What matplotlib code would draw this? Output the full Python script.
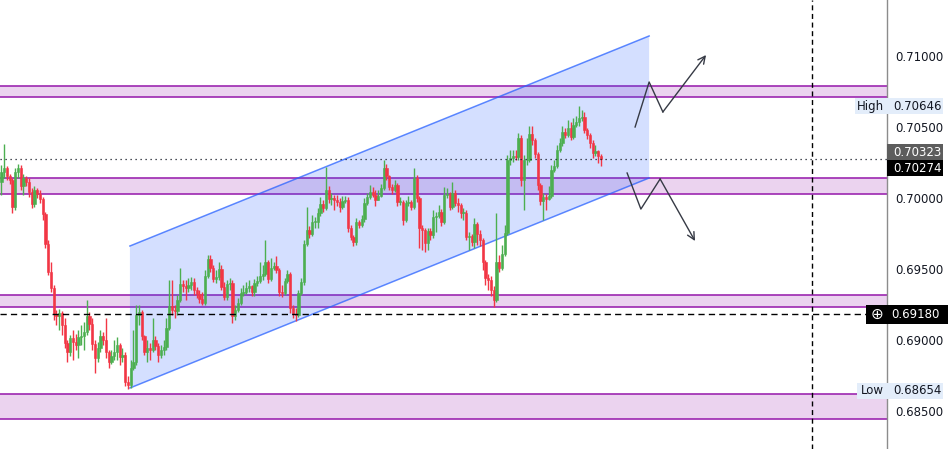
import numpy as np
import matplotlib
matplotlib.use('Agg')
import matplotlib.pyplot as plt
import matplotlib.transforms as mtransforms
from matplotlib.patches import Polygon, Rectangle

# ------------------------------------------------------------
# price data, one candle per bar
# ------------------------------------------------------------
open0 = 0.70113
closes = [
    0.70183, 0.70211, 0.70155, 0.70127, 0.69937, 0.70183, 0.70211, 0.70085, 0.70141, 0.70113,
    0.70042, 0.69958, 0.70056, 0.70028, 0.69993, 0.69887, 0.69676, 0.69479, 0.69366, 0.69183,
    0.69169, 0.69190, 0.69106, 0.68979, 0.68915, 0.69014, 0.68986, 0.68965, 0.69021, 0.69028,
    0.69056, 0.69169, 0.69113, 0.68972, 0.68873, 0.68944, 0.69028, 0.69000, 0.68915, 0.68845,
    0.68887, 0.68915, 0.68965, 0.68880, 0.68894, 0.68704, 0.68683, 0.68803, 0.68845, 0.69176,
    0.69197, 0.69028, 0.68915, 0.68944, 0.68929, 0.69000, 0.68958, 0.68894, 0.68929, 0.68951,
    0.69084, 0.69239, 0.69211, 0.69204, 0.69282, 0.69394, 0.69380, 0.69366, 0.69387, 0.69408,
    0.69352, 0.69324, 0.69289, 0.69261, 0.69451, 0.69570, 0.69507, 0.69430, 0.69444, 0.69500,
    0.69373, 0.69303, 0.69394, 0.69401, 0.69169, 0.69211, 0.69261, 0.69331, 0.69338, 0.69366,
    0.69380, 0.69338, 0.69401, 0.69415, 0.69451, 0.69465, 0.69549, 0.69430, 0.69507, 0.69521,
    0.69493, 0.69338, 0.69331, 0.69415, 0.69465, 0.69225, 0.69183, 0.69176, 0.69331, 0.69408,
    0.69676, 0.69774, 0.69746, 0.69831, 0.69831, 0.69894, 0.69958, 0.69930, 0.70056, 0.69993,
    0.70000, 0.69986, 0.69972, 0.69937, 0.69979, 0.69986, 0.69789, 0.69725, 0.69690, 0.69831,
    0.69810, 0.69852, 0.69965, 0.70007, 0.70042, 0.70021, 0.69986, 0.70014, 0.70071, 0.70211,
    0.70155, 0.70078, 0.70056, 0.70092, 0.69972, 0.69972, 0.69845, 0.69965, 0.69972, 0.69937,
    0.70141, 0.70000, 0.69789, 0.69774, 0.69683, 0.69767, 0.69739, 0.69866, 0.69873, 0.69901,
    0.69831, 0.70021, 0.70028, 0.69937, 0.70035, 0.69965, 0.69951, 0.69894, 0.69894, 0.69725,
    0.69732, 0.69690, 0.69817, 0.69746, 0.69704, 0.69549, 0.69437, 0.69422, 0.69352, 0.69282,
    0.69549, 0.69507, 0.69606, 0.69753, 0.70267, 0.70281, 0.70296, 0.70289, 0.70422, 0.70127,
    0.70267, 0.70267, 0.70451, 0.70408, 0.70310, 0.70092, 0.69979, 0.70007, 0.69993, 0.70014,
    0.70197, 0.70225, 0.70338, 0.70387, 0.70465, 0.70444, 0.70493, 0.70429, 0.70514, 0.70535,
    0.70563, 0.70570, 0.70479, 0.70444, 0.70387, 0.70317, 0.70331, 0.70296, 0.70274,
]
highs = [
    0.70232, 0.70380, 0.70225, 0.70169, 0.70141, 0.70211, 0.70239, 0.70232, 0.70169, 0.70155,
    0.70141, 0.70071, 0.70085, 0.70071, 0.70056, 0.70007, 0.69901, 0.69704, 0.69549, 0.69387,
    0.69211, 0.69219, 0.69204, 0.69155, 0.69000, 0.69035, 0.69070, 0.69042, 0.69070, 0.69106,
    0.69127, 0.69282, 0.69197, 0.69155, 0.69000, 0.68986, 0.69070, 0.69056, 0.69155, 0.68929,
    0.68929, 0.69000, 0.69021, 0.68979, 0.68944, 0.68915, 0.68747, 0.68859, 0.69070, 0.69246,
    0.69246, 0.69211, 0.69035, 0.69000, 0.68979, 0.69155, 0.69028, 0.68979, 0.68965, 0.69000,
    0.69155, 0.69422, 0.69422, 0.69246, 0.69317, 0.69507, 0.69422, 0.69422, 0.69437, 0.69444,
    0.69437, 0.69373, 0.69352, 0.69338, 0.69493, 0.69599, 0.69599, 0.69528, 0.69493, 0.69549,
    0.69528, 0.69408, 0.69422, 0.69437, 0.69422, 0.69246, 0.69296, 0.69366, 0.69387, 0.69408,
    0.69422, 0.69387, 0.69430, 0.69451, 0.69549, 0.69528, 0.69704, 0.69563, 0.69577, 0.69549,
    0.69591, 0.69507, 0.69387, 0.69437, 0.69493, 0.69479, 0.69246, 0.69225, 0.69352, 0.69437,
    0.69704, 0.69937, 0.69803, 0.69880, 0.69866, 0.69930, 0.70007, 0.69986, 0.70218, 0.70085,
    0.70035, 0.70021, 0.70021, 0.70000, 0.70014, 0.70014, 0.70007, 0.69810, 0.69739, 0.69859,
    0.69845, 0.69880, 0.70000, 0.70035, 0.70092, 0.70078, 0.70056, 0.70056, 0.70099, 0.70267,
    0.70239, 0.70162, 0.70099, 0.70127, 0.70106, 0.70007, 0.69986, 0.69986, 0.70014, 0.69986,
    0.70211, 0.70162, 0.70014, 0.69810, 0.69789, 0.69789, 0.69789, 0.69915, 0.69901, 0.69951,
    0.69923, 0.70078, 0.70071, 0.70042, 0.70113, 0.70056, 0.70000, 0.69965, 0.69930, 0.69915,
    0.69760, 0.69746, 0.69859, 0.69831, 0.69774, 0.69718, 0.69563, 0.69465, 0.69451, 0.69380,
    0.69894, 0.69599, 0.69669, 0.69810, 0.70303, 0.70338, 0.70338, 0.70338, 0.70458, 0.70444,
    0.70303, 0.70422, 0.70507, 0.70507, 0.70422, 0.70324, 0.70106, 0.70035, 0.70028, 0.70085,
    0.70232, 0.70267, 0.70373, 0.70422, 0.70507, 0.70493, 0.70549, 0.70535, 0.70563, 0.70577,
    0.70646, 0.70620, 0.70606, 0.70493, 0.70458, 0.70408, 0.70373, 0.70338, 0.70310,
]
lows = [
    0.70021, 0.70141, 0.70127, 0.70099, 0.69894, 0.69915, 0.70141, 0.70056, 0.70021, 0.70085,
    0.70007, 0.69930, 0.69937, 0.70000, 0.69965, 0.69845, 0.69648, 0.69458, 0.69338, 0.69141,
    0.69106, 0.69070, 0.69035, 0.68944, 0.68845, 0.68887, 0.68859, 0.68929, 0.68873, 0.68965,
    0.68929, 0.69035, 0.69070, 0.68929, 0.68768, 0.68845, 0.68915, 0.68965, 0.68873, 0.68803,
    0.68831, 0.68859, 0.68859, 0.68824, 0.68845, 0.68676, 0.68654, 0.68662, 0.68789, 0.68824,
    0.69106, 0.69000, 0.68894, 0.68845, 0.68859, 0.68915, 0.68929, 0.68845, 0.68873, 0.68894,
    0.68929, 0.69070, 0.69176, 0.69155, 0.69176, 0.69268, 0.69338, 0.69282, 0.69338, 0.69352,
    0.69317, 0.69296, 0.69261, 0.69246, 0.69246, 0.69437, 0.69479, 0.69408, 0.69401, 0.69422,
    0.69352, 0.69282, 0.69282, 0.69352, 0.69120, 0.69141, 0.69197, 0.69246, 0.69310, 0.69324,
    0.69338, 0.69310, 0.69310, 0.69380, 0.69401, 0.69422, 0.69451, 0.69401, 0.69415, 0.69493,
    0.69472, 0.69310, 0.69303, 0.69317, 0.69401, 0.69190, 0.69155, 0.69134, 0.69162, 0.69317,
    0.69387, 0.69662, 0.69718, 0.69732, 0.69789, 0.69789, 0.69873, 0.69901, 0.69915, 0.69965,
    0.69951, 0.69915, 0.69944, 0.69901, 0.69923, 0.69965, 0.69760, 0.69704, 0.69662, 0.69669,
    0.69789, 0.69796, 0.69831, 0.69951, 0.69993, 0.70007, 0.69944, 0.69993, 0.70007, 0.70056,
    0.70127, 0.70056, 0.70028, 0.70042, 0.69944, 0.69951, 0.69810, 0.69831, 0.69944, 0.69915,
    0.69923, 0.69972, 0.69648, 0.69634, 0.69620, 0.69634, 0.69704, 0.69718, 0.69760, 0.69859,
    0.69803, 0.69817, 0.70000, 0.69915, 0.69923, 0.69944, 0.69901, 0.69859, 0.69845, 0.69704,
    0.69634, 0.69662, 0.69648, 0.69669, 0.69662, 0.69493, 0.69387, 0.69352, 0.69310, 0.69232,
    0.69268, 0.69479, 0.69493, 0.69591, 0.69739, 0.70232, 0.70253, 0.70267, 0.70267, 0.70085,
    0.69915, 0.70232, 0.70253, 0.70373, 0.70281, 0.70056, 0.69951, 0.69845, 0.69915, 0.69986,
    0.70000, 0.70183, 0.70211, 0.70324, 0.70366, 0.70422, 0.70429, 0.70408, 0.70415, 0.70500,
    0.70507, 0.70542, 0.70458, 0.70415, 0.70352, 0.70281, 0.70296, 0.70246, 0.70225,
]

# support / resistance zones (bottom, top)
zones = [(0.70711, 0.70788), (0.70028, 0.70141), (0.69232, 0.69317), (0.68443, 0.68620)]

# rising channel (bar index, price)
channel_x = [46.7, 235.5]
channel_top = [0.69662, 0.71141]
channel_bot = [0.68662, 0.70141]

# projected paths
up_x = [230.4, 235.5, 240.5, 256.2]
up_y = [0.70500, 0.70817, 0.70606, 0.71007]
dn_x = [227.5, 232.5, 239.5, 252.2]
dn_y = [0.70176, 0.69922, 0.70134, 0.69697]

last_price = 0.70274
prev_price = 0.70323
line_price = 0.69180
high_price = 0.70646
low_price = 0.68654
vline_bar = 294.7
price_ticks = [0.68500, 0.69000, 0.69500, 0.70000, 0.70500, 0.71000]

GREEN = '#4caf50'
RED = '#f23645'
PURPLE = '#9c27b0'
BLUE = '#2962ff'
TXT = '#131722'
FS = 8.5

W, H = 948, 449
fig = plt.figure(figsize=(W / 100, H / 100), dpi=100)
ax = fig.add_axes([0, 0, 887 / W, 1])
ax.set_xlim(-0.545, 322.0)
ax.set_ylim(0.682324, 0.713944)

# zones
for lo, hi in zones:
    ax.axhspan(lo, hi, color=PURPLE, alpha=0.2, lw=0, zorder=1)
    ax.axhline(lo, color=PURPLE, lw=1.2, zorder=1.5)
    ax.axhline(hi, color=PURPLE, lw=1.2, zorder=1.5)

# channel
poly = Polygon([(channel_x[0], channel_top[0]), (channel_x[1], channel_top[1]),
                (channel_x[1], channel_bot[1]), (channel_x[0], channel_bot[0])],
               closed=True, facecolor=BLUE, alpha=0.2, lw=0, zorder=2)
ax.add_patch(poly)
ax.plot(channel_x, channel_top, color=BLUE, lw=1.1, alpha=0.75, zorder=2.5)
ax.plot(channel_x, channel_bot, color=BLUE, lw=1.1, alpha=0.75, zorder=2.5)

# candles
c = np.array(closes)
o = np.array([open0] + closes[:-1])
h = np.maximum(np.array(highs), np.maximum(o, c))
l = np.minimum(np.array(lows), np.minimum(o, c))
x = np.arange(len(c))
cols = np.where(c >= o, GREEN, RED)
ax.vlines(x, l, h, colors=cols, lw=1.0, zorder=3)
ax.bar(x, np.maximum(np.abs(c - o), 0.00004), bottom=np.minimum(o, c), width=0.78,
       color=cols, edgecolor=cols, lw=0.4, zorder=3.2)

# price lines
ax.axhline(last_price, color=TXT, lw=0.9, linestyle=(0, (1, 3)), zorder=4)
ax.hlines(line_price, -0.545, 314.4, color='black', lw=1.0, linestyle=(0, (4.5, 3)), zorder=4)
ax.axvline(vline_bar, color='black', lw=1.0, linestyle=(0, (3.6, 2.6)), zorder=4)

# projection arrows
for xs, ys in [(up_x, up_y), (dn_x, dn_y)]:
    ax.plot(xs[:-1], ys[:-1], color='#363a45', lw=1.0, zorder=5)
    ax.annotate('', xy=(xs[-1], ys[-1]), xytext=(xs[-2], ys[-2]),
                arrowprops=dict(arrowstyle='->', color='#363a45', lw=1.0,
                                mutation_scale=13, shrinkA=0, shrinkB=0), zorder=5)

# axes styling
ax.set_xticks([])
ax.yaxis.tick_right()
ax.set_yticks(price_ticks)
ax.set_yticklabels([f'{p:.5f}' for p in price_ticks])
ax.tick_params(axis='y', length=0, pad=6, labelsize=FS, colors=TXT)
for s in ['top', 'left', 'bottom']:
    ax.spines[s].set_visible(False)
ax.spines['right'].set_color('#8c8c8c')
ax.spines['right'].set_linewidth(1.0)

# price scale labels
blend = mtransforms.blended_transform_factory(fig.transFigure, ax.transData)
px = (0.713944 - 0.682324) / H


def label_box(x0, x1, price, text, bg, fg, ha='left', weight='normal', hpx=16):
    fig.patches.append(Rectangle((x0 / W, price - hpx * px / 2), (x1 - x0) / W, hpx * px,
                                 transform=blend, facecolor=bg, edgecolor='none', zorder=6))
    tx = (x0 + 6) / W if ha == 'left' else (x1 - 3) / W
    fig.text(tx, price, text, transform=blend, ha=ha, va='center', fontsize=FS,
             color=fg, weight=weight, zorder=7)


label_box(855, 887, high_price, 'High', '#e3edfa', TXT, ha='right')
label_box(887, 943, high_price, f'{high_price:.5f}', '#e3edfa', TXT)
label_box(887, 943, prev_price, f'{prev_price:.5f}', '#5d5d5d', 'white')
label_box(887, 943, last_price - 9 * px, f'{last_price:.5f}', 'black', 'white')
label_box(857, 887, low_price - 1.5 * px, 'Low', '#e3edfa', TXT, ha='right')
label_box(887, 943, low_price - 1.5 * px, f'{low_price:.5f}', '#e3edfa', TXT)
label_box(866, 948, line_price, '', 'black', 'white', hpx=19)
fig.text(891 / W, line_price, f'{line_price:.5f}', transform=blend, ha='left', va='center',
         fontsize=FS, color='white', zorder=7)
fig.text(877 / W, line_price, '\u2295', transform=blend, ha='center', va='center',
         fontsize=11, color='white', zorder=7)

fig.savefig('out.png', dpi=100, facecolor='white')
